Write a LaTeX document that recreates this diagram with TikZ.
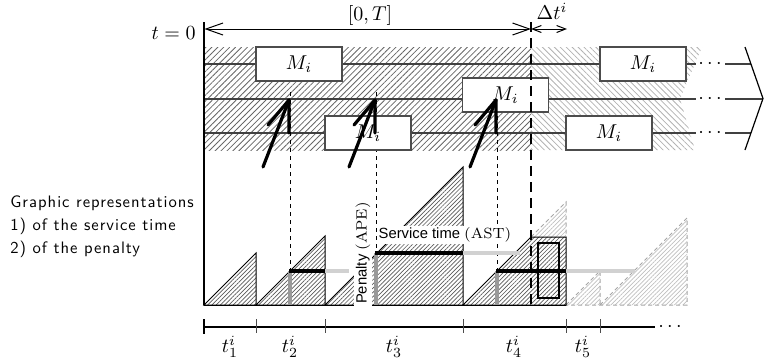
\documentclass[tikz,border=0pt]{standalone}
\usepackage{fontspec}
\newfontfamily\helv{Liberation Sans}
\newfontfamily\spsans[LetterSpace=6]{lmsans10-regular.otf}
\usetikzlibrary{patterns,patterns.meta,arrows.meta}
\begin{document}
\begin{tikzpicture}[x=0.5pt,y=-0.5pt,
  lane/.style={draw=black!75, line width=0.6pt},
  mbox/.style={draw=black!70, fill=white, line width=0.6pt, minimum width=43pt, minimum height=17pt, inner sep=0pt},
  bigarrow/.style={line width=1.6pt, line cap=round, line join=round},
  tri/.style={draw=black, line width=0.5pt, pattern={Lines[angle=45,distance=1.5pt,line width=0.35pt]}, pattern color=black!65},
  ghostfill/.style={pattern={Lines[angle=45,distance=1.5pt,line width=0.35pt]}, pattern color=black!25},
  ghost/.style={draw=black!35, dash pattern=on 2pt off 1.5pt, line width=0.5pt},
  vdash/.style={draw=black, dash pattern=on 2pt off 2pt, line width=0.4pt},
  bigdash/.style={draw=black, dash pattern=on 5pt off 3pt, line width=1.2pt},
  barblk/.style={line width=1.8pt, draw=black},
  bargray/.style={line width=1.6pt, draw=black!40},
  barlight/.style={line width=1.6pt, draw=black!18},
  tick/.style={draw=black!70, line width=0.5pt},
  lbl/.style={inner sep=0.5pt},
  bgtext/.style={fill=white, inner sep=0.8pt, font=\fontsize{7.4}{8}\helv},
]
\useasboundingbox (0,0) rectangle (766,360);

% hatched band
\fill[pattern={Lines[angle=45,distance=2.1pt,line width=0.4pt]}, pattern color=black!60] (204,47) rectangle (531,150);
\fill[pattern={Lines[angle=-45,distance=2.1pt,line width=0.4pt]}, pattern color=black!30] (531,47) -- (702,47) -- (680,99) -- (695,150) -- (531,150) -- cycle;

% lanes
\draw[lane] (204,64) -- (696,64);
\draw[lane] (204,99) -- (696,99);
\draw[lane] (204,133) -- (696,133);
\draw[lane] (725,64) -- (751,64);
\draw[lane] (725,99) -- (763,99);
\draw[lane] (725,133) -- (751,133);
\node[lbl] (d1) at (710,64) {$\cdots$};
\node[lbl] (d2) at (710,99) {$\cdots$};
\node[lbl] (d3) at (710,133) {$\cdots$};
\draw[line width=0.6pt] (745,47) -- (763,98.5) -- (745,150);

% thin dashed verticals
\draw[vdash] (290,92) -- (290,305);
\draw[vdash] (376,92) -- (376,305);
\draw[vdash] (497,92) -- (497,305);

% boxes
\node[mbox] (m1) at (299,64) {$M_i$};
\node[mbox] (m2) at (368,133) {$M_i$};
\node[mbox] (m3) at (505.5,95) {$M_i$};
\node[mbox] (m4) at (643,64) {$M_i$};
\node[mbox] (m5) at (609,133) {$M_i$};

% time axis top
\draw[line width=1pt] (204,22) -- (204,305);
\coordinate (a0) at (204.5,29);
\coordinate (aT) at (531,29);
\coordinate (aD) at (567,29);
\draw[line width=0.5pt, {Straight Barb[length=8.5pt,width=6pt]}-{Straight Barb[length=8.5pt,width=6pt]}] (a0) -- (aT);
\draw[line width=0.5pt, {Straight Barb[length=4.5pt,width=3.5pt]}-{Straight Barb[length=4.5pt,width=3.5pt]}] (aT) -- (aD);
\node[lbl] (lT) at (370,15) {$[0,T]$};
\node[lbl] (lD) at (552,11) {$\Delta t^i$};
\node[lbl, anchor=east] (l0) at (197,33) {$t=0$};

% bottom triangles
\draw[tri] (204,305) -- (256,253) -- (256,305) -- cycle;
\draw[tri] (256,305) -- (325,236) -- (325,305) -- cycle;
\draw[tri] (325,305) -- (463,167) -- (463,305) -- cycle;
\fill[ghostfill] (531,237) -- (566,202) -- (566,237) -- cycle;
\fill[ghostfill] (566,305) -- (600,271) -- (600,305) -- cycle;
\fill[ghostfill] (600,305) -- (687,218) -- (687,305) -- cycle;
\draw[ghost] (531,237) -- (566,202) -- (566,237);
\draw[ghost] (566,305) -- (600,271) -- (600,305);
\draw[ghost] (600,305) -- (687,218) -- (687,305) -- (566,305);
\draw[tri] (463,305) -- (531,237) -- (566,237) -- (566,305) -- cycle;
\draw[line width=0.6pt] (538,243) rectangle (559,298);

% service / penalty bars
\draw[barlight] (325,271) -- (349,271);
\draw[barlight] (463,253) -- (520,253);
\draw[barlight] (566,271) -- (635,271);
\draw[bargray] (290,305) -- (290,271);
\draw[bargray] (376,305) -- (376,253);
\draw[bargray] (497,305) -- (497,271);
\draw[barblk] (289.2,271) -- (325,271);
\draw[barblk] (375.2,253) -- (463,253);
\draw[barblk] (496.2,271) -- (566,271);
\draw[line width=0.5pt] (204,305) -- (566,305);

% big dashed line
\draw[bigdash] (531,22) -- (531,305);

% labels in the chart
\node[bgtext, rotate=90] (pen) at (363,253) {Penalty {\rmfamily(APE)}};
\node[bgtext] (svc) at (445,235) {Service time {\rmfamily(AST)}};

% big arrows
\foreach \x/\n in {289/1, 375/2, 496/3}{
  \coordinate (tip\n) at (\x,100);
  \coordinate (tail\n) at (\x-26,167);
  \coordinate (ba\n) at (\x-21,125);
  \coordinate (bb\n) at (\x,133);
  \draw[bigarrow] (tail\n) -- (tip\n);
  \draw[bigarrow] (ba\n) -- (tip\n) -- (bb\n);
}

% bottom axis
\draw[line width=1pt] (204,327) -- (655,327);
\draw[line width=0.7pt] (204,319) -- (204,334);
\foreach \x in {256,325,463,566,600}{\draw[tick] (\x,319) -- (\x,333);}
\node[lbl] (dax) at (670,327) {$\cdots$};
\node[lbl] (t1) at (230,347) {$t_1^i$};
\node[lbl] (t2) at (290,347) {$t_2^i$};
\node[lbl] (t3) at (394,347) {$t_3^i$};
\node[lbl] (t4) at (514,347) {$t_4^i$};
\node[lbl] (t5) at (583,347) {$t_5^i$};

% left text
\node[lbl, anchor=west, align=left, font=\fontsize{8.3}{11.5}\spsans] (gr) at (9,227) {Graphic representations\\1) of the service time\\2) of the penalty};
\end{tikzpicture}
\end{document}
